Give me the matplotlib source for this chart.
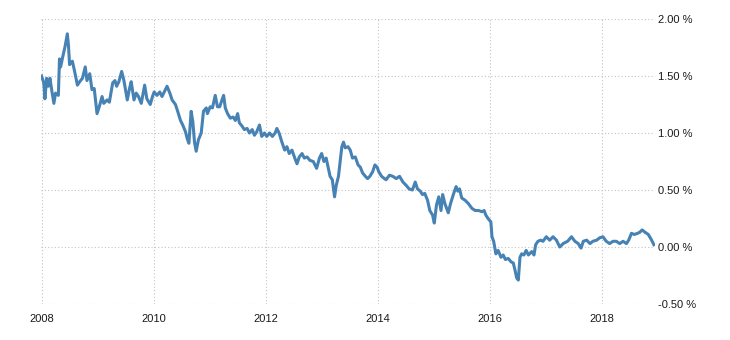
import matplotlib
matplotlib.use("Agg")

import matplotlib.pyplot as plt
from matplotlib.ticker import FuncFormatter, MultipleLocator

LINE_COLOR = "#4682B4"
GRID_COLOR = "#C4C4C4"
TEXT_COLOR = "#1A1A1A"

# decimal years
YEARS = [
    2008.00, 2008.04, 2008.06, 2008.09, 2008.12, 2008.15, 2008.18, 2008.22, 2008.25, 2008.30,
    2008.32, 2008.34, 2008.37, 2008.42, 2008.46, 2008.48, 2008.50, 2008.55, 2008.59, 2008.64,
    2008.68, 2008.73, 2008.78, 2008.81, 2008.86, 2008.90, 2008.94, 2008.96, 2008.99, 2009.03,
    2009.08, 2009.11, 2009.17, 2009.21, 2009.27, 2009.31, 2009.34, 2009.38, 2009.43, 2009.47,
    2009.53, 2009.57, 2009.60, 2009.65, 2009.69, 2009.73, 2009.78, 2009.84, 2009.88, 2009.94,
    2009.98, 2010.01, 2010.06, 2010.11, 2010.15, 2010.19, 2010.24, 2010.29, 2010.33, 2010.39,
    2010.43, 2010.48, 2010.52, 2010.57, 2010.60, 2010.63, 2010.67, 2010.70, 2010.73, 2010.76,
    2010.80, 2010.85, 2010.89, 2010.94, 2010.96, 2011.01, 2011.05, 2011.10, 2011.14, 2011.18,
    2011.22, 2011.25, 2011.28, 2011.32, 2011.37, 2011.42, 2011.46, 2011.50, 2011.53, 2011.58,
    2011.62, 2011.67, 2011.71, 2011.76, 2011.80, 2011.84, 2011.89, 2011.93, 2011.98, 2012.02,
    2012.07, 2012.12, 2012.17, 2012.20, 2012.24, 2012.29, 2012.34, 2012.38, 2012.42, 2012.47,
    2012.52, 2012.56, 2012.60, 2012.65, 2012.69, 2012.74, 2012.79, 2012.85, 2012.91, 2012.96,
    2013.00, 2013.04, 2013.08, 2013.12, 2013.15, 2013.19, 2013.23, 2013.26, 2013.30, 2013.33,
    2013.36, 2013.39, 2013.42, 2013.47, 2013.51, 2013.55, 2013.60, 2013.65, 2013.69, 2013.73,
    2013.78, 2013.82, 2013.86, 2013.91, 2013.95, 2013.99, 2014.02, 2014.07, 2014.12, 2014.15,
    2014.21, 2014.27, 2014.33, 2014.39, 2014.45, 2014.51, 2014.56, 2014.62, 2014.67, 2014.71,
    2014.76, 2014.80, 2014.84, 2014.89, 2014.93, 2014.98, 2015.01, 2015.05, 2015.09, 2015.13,
    2015.16, 2015.20, 2015.26, 2015.30, 2015.35, 2015.40, 2015.43, 2015.46, 2015.50, 2015.56,
    2015.62, 2015.68, 2015.74, 2015.80, 2015.86, 2015.90, 2015.93, 2015.97, 2016.02, 2016.04,
    2016.07, 2016.11, 2016.15, 2016.20, 2016.24, 2016.28, 2016.33, 2016.38, 2016.42, 2016.45,
    2016.48, 2016.51, 2016.54, 2016.57, 2016.61, 2016.65, 2016.69, 2016.75, 2016.79, 2016.82,
    2016.86, 2016.91, 2016.95, 2017.01, 2017.07, 2017.13, 2017.19, 2017.25, 2017.31, 2017.39,
    2017.46, 2017.52, 2017.58, 2017.63, 2017.67, 2017.73, 2017.79, 2017.84, 2017.91, 2017.96,
    2018.02, 2018.08, 2018.14, 2018.20, 2018.26, 2018.32, 2018.38, 2018.44, 2018.48, 2018.53,
    2018.58, 2018.64, 2018.68, 2018.72, 2018.77, 2018.83, 2018.89, 2018.93,
]

# yield, percent
VALUES = [
    1.50, 1.44, 1.30, 1.48, 1.41, 1.48, 1.38, 1.26, 1.35, 1.33,
    1.65, 1.58, 1.65, 1.76, 1.87, 1.77, 1.60, 1.63, 1.54, 1.42,
    1.45, 1.48, 1.58, 1.46, 1.52, 1.38, 1.39, 1.30, 1.17, 1.23,
    1.32, 1.26, 1.29, 1.27, 1.44, 1.46, 1.41, 1.45, 1.54, 1.46,
    1.29, 1.39, 1.45, 1.29, 1.35, 1.32, 1.26, 1.42, 1.30, 1.25,
    1.32, 1.36, 1.33, 1.36, 1.32, 1.36, 1.41, 1.35, 1.29, 1.25,
    1.19, 1.11, 1.07, 1.01, 0.95, 0.91, 1.19, 1.10, 0.92, 0.84,
    0.94, 1.00, 1.19, 1.22, 1.17, 1.23, 1.22, 1.33, 1.23, 1.23,
    1.29, 1.33, 1.22, 1.17, 1.13, 1.14, 1.11, 1.17, 1.09, 1.06,
    1.03, 1.04, 1.00, 1.03, 0.98, 1.01, 1.07, 0.97, 1.00, 0.97,
    1.00, 0.97, 1.00, 1.04, 1.00, 0.92, 0.85, 0.88, 0.82, 0.85,
    0.78, 0.73, 0.79, 0.82, 0.78, 0.79, 0.76, 0.75, 0.69, 0.78,
    0.82, 0.75, 0.78, 0.69, 0.62, 0.59, 0.44, 0.54, 0.62, 0.75,
    0.88, 0.92, 0.87, 0.88, 0.85, 0.78, 0.79, 0.72, 0.70, 0.65,
    0.62, 0.60, 0.62, 0.66, 0.72, 0.70, 0.66, 0.62, 0.60, 0.59,
    0.63, 0.62, 0.60, 0.62, 0.57, 0.54, 0.51, 0.50, 0.57, 0.51,
    0.49, 0.46, 0.47, 0.41, 0.32, 0.28, 0.21, 0.37, 0.44, 0.32,
    0.46, 0.38, 0.30, 0.38, 0.46, 0.53, 0.49, 0.51, 0.43, 0.41,
    0.38, 0.34, 0.32, 0.32, 0.31, 0.32, 0.28, 0.25, 0.22, 0.09,
    0.05, -0.06, -0.03, -0.09, -0.07, -0.11, -0.10, -0.13, -0.14, -0.20,
    -0.27, -0.29, -0.09, -0.06, -0.07, -0.03, -0.07, -0.04, -0.07, 0.02,
    0.05, 0.06, 0.05, 0.09, 0.06, 0.09, 0.06, 0.00, 0.03, 0.05,
    0.09, 0.05, 0.03, -0.01, 0.05, 0.06, 0.03, 0.05, 0.06, 0.08,
    0.09, 0.05, 0.03, 0.05, 0.05, 0.03, 0.05, 0.03, 0.06, 0.12,
    0.11, 0.12, 0.13, 0.15, 0.13, 0.11, 0.06, 0.02,
]

X_TICKS = [2008, 2010, 2012, 2014, 2016, 2018]

plt.rcParams.update({
    "font.family": ["Liberation Sans", "DejaVu Sans"],
    "font.size": 8,
    "text.color": TEXT_COLOR,
    "xtick.color": TEXT_COLOR,
    "ytick.color": TEXT_COLOR,
})

fig = plt.figure(figsize=(7.3, 3.4), dpi=100, facecolor="white")
ax = fig.add_axes([41 / 730, 36 / 340, 614 / 730, 285 / 340])

ax.plot(YEARS, VALUES, color=LINE_COLOR, linewidth=2.2, solid_joinstyle="round")

ax.set_xlim(2007.99, 2018.95)
ax.set_ylim(-0.5, 2.0)

ax.set_xticks(X_TICKS)
ax.set_xticklabels([str(y) for y in X_TICKS])
ax.yaxis.set_major_locator(MultipleLocator(0.5))
ax.yaxis.set_major_formatter(FuncFormatter(lambda v, _: f"{v:.2f} %"))
ax.yaxis.tick_right()

ax.tick_params(axis="x", length=0, pad=7, labelsize=8)
ax.tick_params(axis="y", length=0, pad=2, labelsize=8)

for side in ["top", "right", "left", "bottom"]:
    ax.spines[side].set_visible(False)

ax.grid(True, color=GRID_COLOR, linestyle=(0, (1, 2)), linewidth=0.8)
ax.set_axisbelow(True)

fig.savefig("out.png", dpi=100, facecolor="white")
